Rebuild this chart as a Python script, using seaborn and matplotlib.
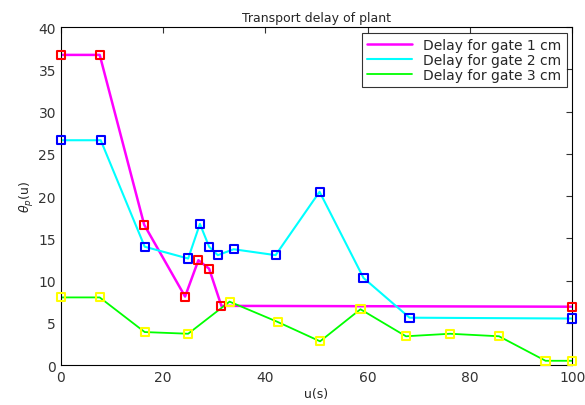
import pandas as pd
import matplotlib
matplotlib.use("Agg")
import matplotlib.pyplot as plt
import seaborn as sns

# values
u_gate1 = [0, 7.6, 16.3, 24.3, 26.9, 29.0, 31.4, 100]
delay_gate1 = [36.7, 36.7, 16.6, 8.1, 12.4, 11.4, 7.0, 6.9]

u_gate2 = [0, 7.8, 16.4, 24.9, 27.2, 29.0, 30.7, 33.8, 42.0, 50.6, 59.2, 68.2, 100]
delay_gate2 = [26.6, 26.6, 14.0, 12.6, 16.7, 14.0, 13.0, 13.7, 13.0, 20.5, 10.3, 5.6, 5.5]

u_gate3 = [0, 7.6, 16.4, 24.9, 33.0, 42.4, 50.7, 58.6, 67.5, 76.1, 85.7, 94.8, 100]
delay_gate3 = [8.0, 8.0, 3.9, 3.7, 7.5, 5.1, 2.8, 6.6, 3.4, 3.7, 3.4, 0.5, 0.5]

series = [
    ("Delay for gate 1 cm", u_gate1, delay_gate1, "#ff00ff", "#ff0000", 1.8),
    ("Delay for gate 2 cm", u_gate2, delay_gate2, "#00ffff", "#0000ff", 1.5),
    ("Delay for gate 3 cm", u_gate3, delay_gate3, "#00ff00", "#ffff00", 1.3),
]

sns.set_style("white")
plt.rcParams['font.family'] = ['DejaVu Sans']

fig = plt.figure(figsize=(5.85, 4.06), dpi=100)
ax = fig.add_axes([0.104, 0.0985, 0.874, 0.8325])

for label, u, d, line_col, mark_col, lw in series:
    df = pd.DataFrame({"u": u, "delay": d})
    sns.lineplot(data=df, x="u", y="delay", sort=False, color=line_col,
                 linewidth=lw, label=label, ax=ax)

for label, u, d, line_col, mark_col, lw in series:
    df = pd.DataFrame({"u": u, "delay": d})
    sns.scatterplot(data=df, x="u", y="delay", marker="s", s=34,
                    facecolors="none", edgecolor=mark_col, linewidth=1.5,
                    ax=ax, legend=False, zorder=5, clip_on=False)

ax.set_xlim(0, 100)
ax.set_ylim(0, 40)
ax.set_xticks(range(0, 101, 20))
ax.set_yticks(range(0, 41, 5))
ax.tick_params(direction="in", length=4, labelsize=10, top=True, right=True,
               colors="#333333")
for sp in ax.spines.values():
    sp.set_color("black")
    sp.set_linewidth(0.8)

ax.set_title("Transport delay of plant", fontsize=9, pad=4)
ax.set_xlabel("u(s)", fontsize=9, labelpad=2)
ax.set_ylabel(r"$\theta_p$(u)", fontsize=9, labelpad=2)

leg = ax.legend(loc="upper right", fontsize=10, frameon=True, fancybox=False,
                handlelength=3.2, borderaxespad=0.4, labelspacing=0.05)
leg.get_frame().set_edgecolor("black")
leg.get_frame().set_linewidth(0.8)

fig.savefig("out.png", dpi=100)
